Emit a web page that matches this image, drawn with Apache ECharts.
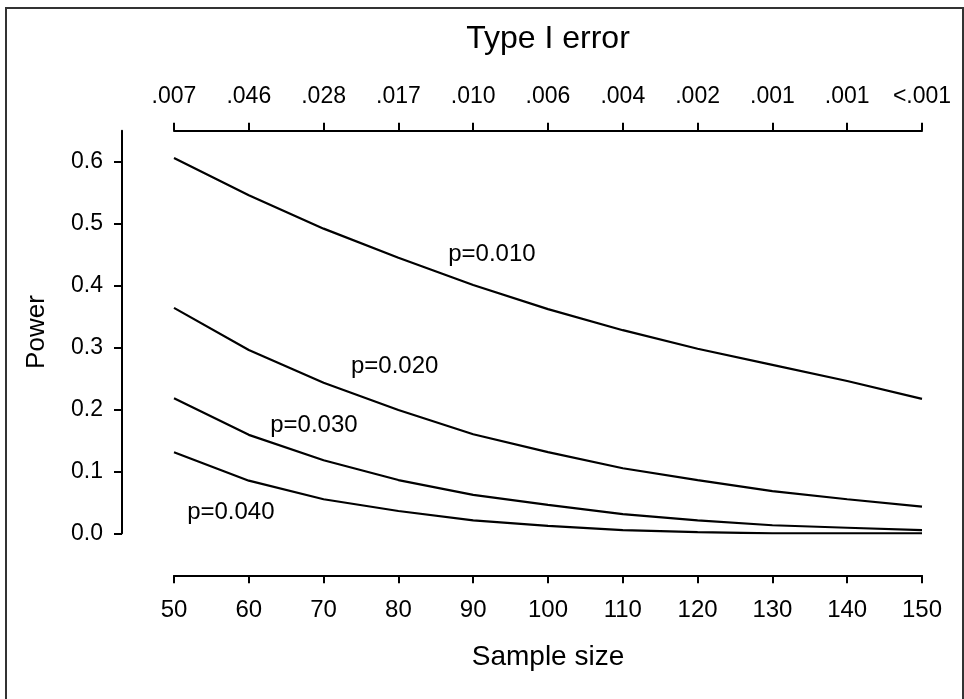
<!DOCTYPE html>
<html lang="en">
<head>
<meta charset="UTF-8">
<title>Power vs sample size</title>
<style>
    *{
        margin: 0;
        padding: 0;
    }
    body{
        background-color: #fff;
    }
    .frame{
        position: absolute;
        left: 5px;
        top: 7px;
        width: 955px;
        height: 720px;
        border: 2px solid #333;
    }
    .echarts{
        position: absolute;
        left: 0;
        top: 0;
        width: 964px;
        height: 699px;
    }
</style>
</head>
<body>
    <div class="frame"></div>
    <div class="echarts"></div>

<script src="https://cdn.jsdelivr.net/npm/echarts@6/dist/echarts.min.js"></script>
<script type="text/javascript">
    // 数据
    var sampleSize = [50, 60, 70, 80, 90, 100, 110, 120, 130, 140, 150]
    var typeIError = ['.007', '.046', '.028', '.017', '.010', '.006', '.004', '.002', '.001', '.001', '<.001']
    var powerTicks = [0, 0.1, 0.2, 0.3, 0.4, 0.5, 0.6]

    var power010 = [0.606, 0.546, 0.492, 0.445, 0.401, 0.362, 0.328, 0.298, 0.272, 0.246, 0.217]
    var power020 = [0.364, 0.296, 0.243, 0.199, 0.160, 0.131, 0.105, 0.086, 0.068, 0.055, 0.043]
    var power030 = [0.218, 0.159, 0.118, 0.086, 0.062, 0.046, 0.031, 0.021, 0.013, 0.009, 0.005]
    var power040 = [0.131, 0.085, 0.055, 0.036, 0.021, 0.012, 0.005, 0.002, 0.000, 0.000, 0.000]

    var curveNames = ['p=0.010', 'p=0.020', 'p=0.030', 'p=0.040']
    // 曲线文字的位置 (样本量, power)
    var labelAt = [[92.5, 0.450], [79.5, 0.270], [68.7, 0.175], [57.6, 0.033]]

    var font = 'Liberation Sans, Arial, sans-serif'
    var myChart = echarts.init(document.querySelector('.echarts'))

    function makeSeries(values, idx) {
        return {
            type: 'line',
            xAxisIndex: 0,
            yAxisIndex: 0,
            data: sampleSize.map(function (x, i) { return [x, values[i]] }),
            symbol: 'none',
            lineStyle: { color: '#000', width: 2.2 },
            silent: true,
            markPoint: {
                symbol: 'circle',
                symbolSize: 0,
                data: [{
                    coord: labelAt[idx],
                    label: {
                        show: true,
                        position: 'inside',
                        formatter: curveNames[idx],
                        color: '#000',
                        fontSize: 24,
                        fontFamily: font
                    }
                }]
            }
        }
    }

    var options = {
        animation: false,
        backgroundColor: 'transparent',
        grid: {
            left: 174,
            right: 42,
            top: 130.8,
            bottom: 165.7
        },
        xAxis: [
            {
                type: 'value',
                position: 'bottom',
                min: 50,
                max: 150,
                interval: 10,
                offset: 42,
                name: 'Sample size',
                nameLocation: 'middle',
                nameGap: 68,
                nameTextStyle: { color: '#000', fontSize: 28, fontFamily: font },
                axisLine: { onZero: false, lineStyle: { color: '#000', width: 2 } },
                axisTick: { length: 8, lineStyle: { color: '#000', width: 2 } },
                axisLabel: { color: '#000', fontSize: 24, fontFamily: font, margin: 23 },
                splitLine: { show: false }
            },
            {
                type: 'category',
                position: 'top',
                boundaryGap: false,
                data: typeIError,
                name: 'Type I error',
                nameLocation: 'middle',
                nameGap: 76,
                nameTextStyle: { color: '#000', fontSize: 32, fontFamily: font },
                axisLine: { onZero: false, lineStyle: { color: '#000', width: 2 } },
                axisTick: { length: 8, interval: 0, lineStyle: { color: '#000', width: 2 } },
                axisLabel: { interval: 0, color: '#000', fontSize: 23, fontFamily: font, margin: 23 }
            }
        ],
        yAxis: {
            type: 'value',
            min: 0,
            max: 0.65,
            offset: 52,
            name: 'Power',
            nameLocation: 'middle',
            nameGap: 72,
            nameTextStyle: { color: '#000', fontSize: 26, fontFamily: font },
            axisLine: { show: true, onZero: false, lineStyle: { color: '#000', width: 2 } },
            axisTick: { show: true, length: 8, customValues: powerTicks, lineStyle: { color: '#000', width: 2 } },
            axisLabel: {
                color: '#000', fontSize: 23, fontFamily: font, margin: 19,
                customValues: powerTicks,
                formatter: function (v) { return v.toFixed(1) }
            },
            splitLine: { show: false }
        },
        series: [
            makeSeries(power010, 0),
            makeSeries(power020, 1),
            makeSeries(power030, 2),
            makeSeries(power040, 3)
        ]
    }
    myChart.setOption(options)
</script>
</body>
</html>
